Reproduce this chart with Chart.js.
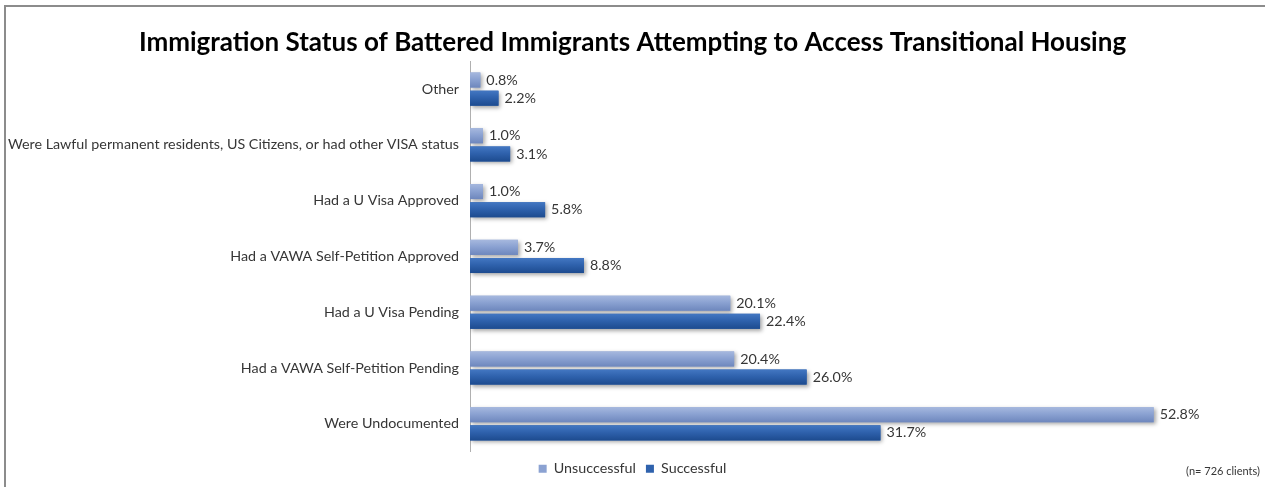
<!DOCTYPE html>
<html>
<head>
<meta charset="utf-8">
<title>Immigration Status of Battered Immigrants Attempting to Access Transitional Housing</title>
<script src="https://cdn.jsdelivr.net/npm/chart.js@4.4.1/dist/chart.umd.min.js"></script>
<style>
  html, body { margin: 0; padding: 0; background: #fff; }
  #wrap { position: relative; width: 1265px; height: 487px; overflow: hidden; }
  #frame { position: absolute; left: 4px; top: 5px; width: 1300px; height: 520px;
           border-top: 2px solid #8c8c8c; border-left: 2px solid #8c8c8c; }
  canvas { position: absolute; left: 0; top: 0; }
</style>
</head>
<body>
<div id="wrap">
  <div id="frame"></div>
  <canvas id="chart" width="1265" height="487"></canvas>
</div>
<script>
// Categories, top to bottom
const categories = [
  'Other',
  'Were Lawful permanent residents, US Citizens, or had other VISA status',
  'Had a U Visa Approved',
  'Had a VAWA Self-Petition Approved',
  'Had a U Visa Pending',
  'Had a VAWA Self-Petition Pending',
  'Were Undocumented'
];

// Percent of clients in each status
const unsuccessful = [0.8, 1.0, 1.0, 3.7, 20.1, 20.4, 52.8];
const successful   = [2.2, 3.1, 5.8, 8.8, 22.4, 26.0, 31.7];

const seriesNames = ['Unsuccessful', 'Successful'];
const chartTitle = 'Immigration Status of Battered Immigrants Attempting to Access Transitional Housing';
const sampleNote = '(n= 726 clients)';

const FONT = "Lato, 'Open Sans', 'Liberation Sans', sans-serif";
const TEXT = '#363636';

// Vertical shading for each bar: [top, middle, bottom]
const shades = [
  ['#a6b8de', '#8ba2d2', '#6e87bd'],
  ['#4377c2', '#2f62ad', '#1d4b8f']
];

// Soft drop shadow under the bars
const barShadow = {
  id: 'barShadow',
  beforeDatasetsDraw(chart) {
    const ctx = chart.ctx;
    ctx.save();
    ctx.shadowColor = 'rgba(0,0,0,0.35)';
    ctx.shadowBlur = 4;
    ctx.shadowOffsetX = 2;
    ctx.shadowOffsetY = 2;
  },
  afterDatasetsDraw(chart) {
    chart.ctx.restore();
  }
};

// Gradient fill over each bar, then its value label
const barFinish = {
  id: 'barFinish',
  afterDatasetsDraw(chart) {
    const ctx = chart.ctx;
    chart.data.datasets.forEach((ds, di) => {
      const meta = chart.getDatasetMeta(di);
      const c = shades[di];
      meta.data.forEach((el, i) => {
        const p = el.getProps(['x', 'y', 'base', 'height'], true);
        const top = p.y - p.height / 2;
        const g = ctx.createLinearGradient(0, top, 0, top + p.height);
        g.addColorStop(0, c[0]);
        g.addColorStop(0.45, c[1]);
        g.addColorStop(1, c[2]);
        ctx.save();
        ctx.fillStyle = g;
        ctx.fillRect(p.base, top, p.x - p.base, p.height);
        ctx.restore();

        ctx.save();
        ctx.font = '14.3px ' + FONT;
        ctx.fillStyle = TEXT;
        ctx.textAlign = 'left';
        ctx.textBaseline = 'middle';
        ctx.fillText(ds.data[i].toFixed(1) + '%', p.x + 6, p.y);
        ctx.restore();
      });
    });
  }
};

// Sample size note in the bottom-right corner
const noteText = {
  id: 'noteText',
  afterDraw(chart) {
    const ctx = chart.ctx;
    ctx.save();
    ctx.font = '11px ' + FONT;
    ctx.fillStyle = TEXT;
    ctx.textAlign = 'right';
    ctx.textBaseline = 'middle';
    ctx.fillText(sampleNote, chart.width - 5, 471);
    ctx.restore();
  }
};

new Chart(document.getElementById('chart'), {
  type: 'bar',
  data: {
    labels: categories,
    datasets: [
      { label: seriesNames[0], data: unsuccessful, backgroundColor: shades[0][1] },
      { label: seriesNames[1], data: successful, backgroundColor: shades[1][1] }
    ]
  },
  options: {
    indexAxis: 'y',
    responsive: false,
    animation: false,
    devicePixelRatio: 1,
    categoryPercentage: 0.65,
    barPercentage: 0.83,
    layout: { padding: { left: 0, right: 0, top: 21, bottom: 1 } },
    scales: {
      x: { display: false, min: 0, max: 61.4 },
      y: {
        grid: { display: false },
        border: { display: true, color: '#b0b0b0', width: 1 },
        ticks: { color: TEXT, font: { family: FONT, size: 14.3 }, padding: 3 },
        afterFit(scale) { scale.width = 470; }
      }
    },
    plugins: {
      title: {
        display: true,
        text: chartTitle,
        color: '#000',
        font: { family: FONT, size: 26, weight: 'bold' },
        padding: { top: 6, bottom: 3 }
      },
      legend: {
        position: 'bottom',
        labels: {
          color: TEXT,
          font: { family: FONT, size: 14.3 },
          boxWidth: 8,
          boxHeight: 8,
          padding: 10
        }
      },
      tooltip: { enabled: false }
    }
  },
  plugins: [barShadow, barFinish, noteText]
});
</script>
</body>
</html>
